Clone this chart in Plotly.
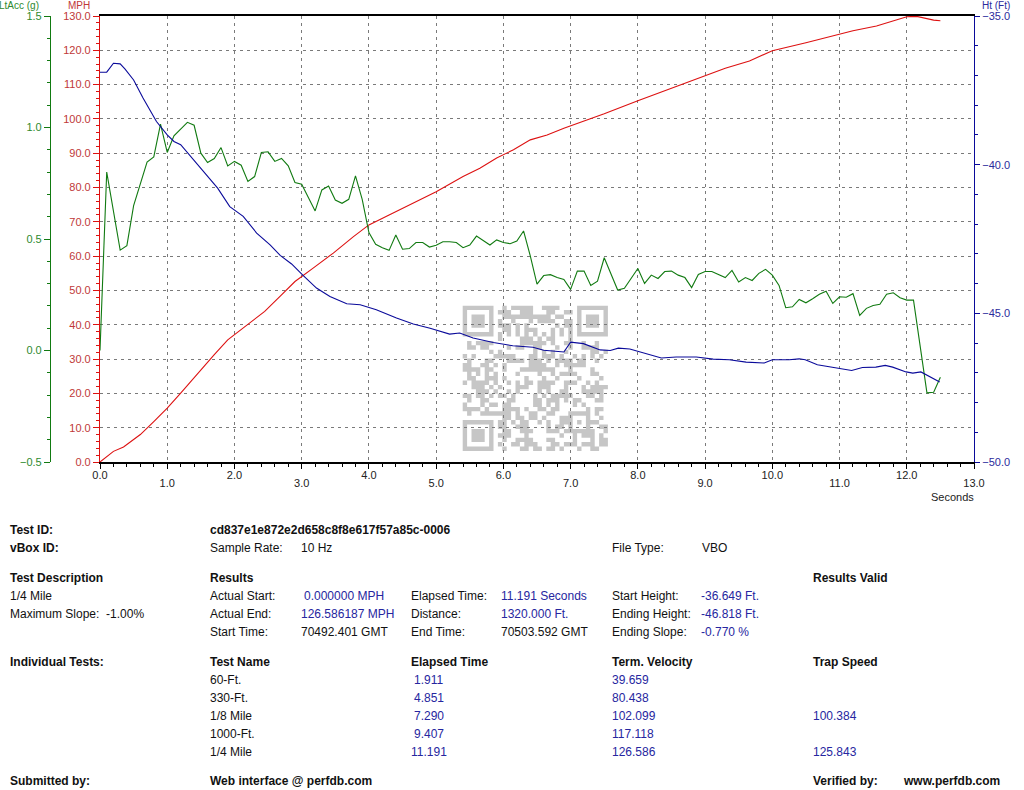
import hashlib
import plotly.graph_objects as go

# ---------------- data ----------------
acc_t = [0.0, 0.1, 0.3, 0.4, 0.5, 0.6, 0.7, 0.8, 0.9, 1.0, 1.1, 1.3, 1.4, 1.5, 1.6, 1.7, 1.8, 1.9,
         2.0, 2.1, 2.2, 2.3, 2.4, 2.5, 2.6, 2.7, 2.8, 2.9, 3.0, 3.2, 3.3, 3.4, 3.5, 3.6, 3.7, 3.8,
         3.9, 4.0, 4.1, 4.2, 4.3, 4.4, 4.5, 4.6, 4.7, 4.8, 4.9, 5.0, 5.1, 5.2, 5.3, 5.4, 5.5, 5.6,
         5.7, 5.8, 5.9, 6.0, 6.1, 6.2, 6.3, 6.4, 6.5, 6.6, 6.7, 6.8, 6.9, 7.0, 7.1, 7.2, 7.3, 7.4,
         7.5, 7.6, 7.7, 7.8, 7.9, 8.0, 8.1, 8.2, 8.3, 8.4, 8.5, 8.6, 8.7, 8.8, 8.9, 9.0, 9.1, 9.2,
         9.3, 9.4, 9.5, 9.6, 9.7, 9.8, 9.9, 10.0, 10.1, 10.2, 10.3, 10.4, 10.5, 10.6, 10.7, 10.8,
         10.9, 11.0, 11.1, 11.2, 11.3, 11.4, 11.5, 11.6, 11.7, 11.8, 11.9, 12.0, 12.1, 12.3, 12.4, 12.5]
acc_g = [0.0, 0.80, 0.45, 0.47, 0.65, 0.75, 0.845, 0.868, 1.015, 0.888, 0.963, 1.023, 1.01, 0.885,
         0.843, 0.861, 0.910, 0.828, 0.848, 0.831, 0.758, 0.780, 0.888, 0.891, 0.848, 0.861, 0.828,
         0.753, 0.746, 0.626, 0.72, 0.738, 0.675, 0.660, 0.678, 0.783, 0.678, 0.529, 0.476, 0.461,
         0.449, 0.518, 0.454, 0.457, 0.484, 0.484, 0.464, 0.472, 0.488, 0.488, 0.484, 0.461, 0.473,
         0.513, 0.494, 0.473, 0.496, 0.484, 0.479, 0.491, 0.536, 0.424, 0.298, 0.336, 0.340, 0.327,
         0.319, 0.274, 0.356, 0.356, 0.292, 0.311, 0.416, 0.341, 0.271, 0.279, 0.323, 0.368, 0.301,
         0.338, 0.323, 0.354, 0.356, 0.338, 0.327, 0.282, 0.341, 0.354, 0.354, 0.341, 0.327, 0.359,
         0.307, 0.327, 0.314, 0.346, 0.364, 0.338, 0.292, 0.192, 0.196, 0.229, 0.214, 0.232, 0.252,
         0.266, 0.211, 0.241, 0.239, 0.255, 0.157, 0.189, 0.202, 0.207, 0.252, 0.259, 0.237, 0.226,
         0.226, -0.190, -0.187, -0.12]

mph_t = [0.0, 0.2, 0.35, 0.6, 0.8, 1.0, 1.2, 1.5, 1.7, 1.9, 2.2, 2.45, 2.7, 2.9, 3.17, 3.47, 3.77,
         4.0, 4.3, 4.66, 5.0, 5.4, 5.65, 5.9, 6.15, 6.4, 6.65, 6.9, 7.13, 7.5, 8.0, 8.5, 9.0, 9.3,
         9.66, 10.0, 10.5, 11.0, 11.2, 11.55, 12.0, 12.15, 12.4, 12.5]
mph_v = [0.0, 3.1, 4.4, 8.0, 11.8, 15.7, 20.1, 26.9, 31.3, 35.6, 40.0, 43.9, 48.7, 52.6, 56.5, 60.9,
         65.7, 69.1, 72.0, 75.4, 78.8, 83.2, 85.6, 88.6, 91.0, 93.9, 95.3, 97.3, 98.9, 101.5, 105.3,
         109.0, 112.6, 114.8, 116.9, 119.9, 122.2, 124.7, 125.7, 127.1, 129.8, 129.9, 128.8, 128.6]

ht_t = [0.0, 0.1, 0.2, 0.3, 0.37, 0.5, 0.64, 0.84, 1.0, 1.1, 1.2, 1.35, 1.55, 1.75, 1.93, 2.13, 2.33,
        2.53, 2.68, 2.85, 3.02, 3.22, 3.42, 3.67, 3.87, 4.11, 4.41, 4.66, 4.91, 5.2, 5.35, 5.55,
        5.85, 6.14, 6.44, 6.6, 6.9, 7.0, 7.19, 7.44, 7.59, 7.71, 7.88, 8.04, 8.18, 8.35, 8.57,
        8.87, 9.12, 9.36, 9.61, 9.88, 10.0, 10.25, 10.4, 10.49, 10.67, 10.95, 11.18, 11.34, 11.54,
        11.68, 11.79, 11.99, 12.09, 12.21, 12.34, 12.49]
ht_ft = [-36.89, -36.89, -36.59, -36.61, -36.78, -37.15, -37.76, -38.55, -39.0, -39.22, -39.33,
         -39.73, -40.29, -40.79, -41.41, -41.74, -42.30, -42.70, -43.05, -43.34, -43.72, -44.15,
         -44.43, -44.68, -44.71, -44.88, -45.16, -45.36, -45.50, -45.70, -45.66, -45.83, -45.98,
         -46.09, -46.14, -46.24, -46.30, -45.97, -46.02, -46.23, -46.25, -46.17, -46.20, -46.30,
         -46.39, -46.50, -46.47, -46.47, -46.54, -46.56, -46.64, -46.67, -46.56, -46.56, -46.53,
         -46.56, -46.73, -46.84, -46.92, -46.82, -46.81, -46.75, -46.81, -46.97, -47.01, -46.97,
         -47.12, -47.31]

test_id = "cd837e1e872e2d658c8f8e617f57a85c-0006"
test_names = ["60-Ft.", "330-Ft.", "1/8 Mile", "1000-Ft.", "1/4 Mile"]
elapsed = ["1.911", "4.851", "7.290", "9.407", "11.191"]
term_vel = ["39.659", "80.438", "102.099", "117.118", "126.586"]
trap_speed = ["", "", "100.384", "", "125.843"]

# ---------------- layout geometry ----------------
W, H = 1024, 790
L, R, T, B = 10, 50, 16, 328
PW, PH = W - L - R, H - T - B


def px(x):
    return (x - L) / PW


def py(y):
    return (H - B - y) / PH


RED = "#dd1111"
RED_T = "#c03838"
GRN = "#117a11"
GRN_T = "#2e8a2e"
BLU = "#0a0a9a"
BLU_T = "#2b2b9c"
TXT_B = "#2626a0"
FONT = "Liberation Sans"
GRID = "#7a7a7a"

fig = go.Figure()
fig.add_trace(go.Scatter(x=mph_t, y=mph_v, mode="lines", line=dict(color=RED, width=1.1),
                         xaxis="x", yaxis="y", showlegend=False))
fig.add_trace(go.Scatter(x=acc_t, y=acc_g, mode="lines", line=dict(color=GRN, width=1.1),
                         xaxis="x", yaxis="y2", showlegend=False))
fig.add_trace(go.Scatter(x=ht_t, y=ht_ft, mode="lines", line=dict(color=BLU, width=1.1),
                         xaxis="x", yaxis="y3", showlegend=False))
# invisible trace to activate the odd-label x axis
fig.add_trace(go.Scatter(x=[0, 13], y=[0, 0], mode="lines", line=dict(width=0),
                         xaxis="x2", yaxis="y", showlegend=False, hoverinfo="skip"))

tickfont = dict(family=FONT, size=11)

fig.update_layout(
    width=W, height=H, margin=dict(l=L, r=R, t=T, b=B, autoexpand=False),
    paper_bgcolor="white", plot_bgcolor="white",
    font=dict(family=FONT, size=12, color="#111"),
    xaxis=dict(domain=[px(100), 1], range=[0, 13], anchor="y", tickmode="linear", tick0=0, dtick=1,
               tickformat=".1f", ticklabelstep=2, ticks="outside", ticklen=5, tickcolor="black",
               showline=True, linecolor="black", linewidth=1.5, mirror=True, ticklabelstandoff=-3,
               showgrid=True, gridcolor=GRID, griddash="3px,4px", gridwidth=1, zeroline=False,
               automargin=False, tickfont=dict(tickfont, color="#222"),
               minor=dict(dtick=0.2, ticks="outside", ticklen=3, tickcolor="black", showgrid=False)),
    xaxis2=dict(domain=[px(100), 1], range=[0, 13], overlaying="x", anchor="y", side="bottom",
                tickmode="linear", tick0=1, dtick=2, tickformat=".1f", ticks="", showline=False,
                showgrid=False, zeroline=False, ticklabelstandoff=13, automargin=False,
                tickfont=dict(tickfont, color="#222")),
    yaxis=dict(domain=[0, 1], range=[0, 130], anchor="x", side="left", tickmode="linear", tick0=0,
               dtick=10, tickformat=".1f", ticks="outside", ticklen=6, tickcolor=RED,
               showline=True, linecolor=RED, linewidth=1.2, showgrid=True, gridcolor=GRID,
               griddash="3px,4px", zeroline=False, automargin=False,
               tickfont=dict(tickfont, color=RED_T),
               minor=dict(dtick=2, ticks="outside", ticklen=3, tickcolor=RED, showgrid=False)),
    yaxis2=dict(range=[-0.5, 1.5], overlaying="y", anchor="free", position=px(50), side="left",
                tickmode="linear", tick0=-0.5, dtick=0.5, tickformat=".1f", ticks="outside",
                ticklen=6, tickcolor=GRN, showline=True, linecolor=GRN, linewidth=1.2,
                showgrid=False, zeroline=False, automargin=False,
                tickfont=dict(tickfont, color=GRN_T),
                minor=dict(dtick=0.1, ticks="outside", ticklen=3, tickcolor=GRN, showgrid=False)),
    yaxis3=dict(range=[-50, -35], overlaying="y", anchor="x", side="right", tickmode="linear",
                tick0=-50, dtick=5, tickformat=".1f", ticks="outside", ticklen=5, tickcolor=BLU,
                showline=True, linecolor=BLU, linewidth=1.2, showgrid=False, zeroline=False,
                automargin=False, tickfont=dict(tickfont, color=BLU_T),
                minor=dict(dtick=1, ticks="outside", ticklen=3, tickcolor=BLU, showgrid=False)),
)

# ---------------- QR-like watermark (decoration) ----------------
N = 33
bits = "".join(bin(b)[2:].zfill(8)
               for i in range(10) for b in hashlib.md5(f"{test_id}{i}".encode()).digest())
mat = [[bits[r * N + c] == "1" for c in range(N)] for r in range(N)]


def finder(r0, c0):
    for r in range(-1, 8):
        for c in range(-1, 8):
            rr, cc = r0 + r, c0 + c
            if 0 <= rr < N and 0 <= cc < N:
                on = (0 <= r <= 6 and 0 <= c <= 6) and (r in (0, 6) or c in (0, 6) or (2 <= r <= 4 and 2 <= c <= 4))
                mat[rr][cc] = on


finder(0, 0)
finder(0, N - 7)
finder(N - 7, 0)
for i in range(8, N - 8):
    mat[6][i] = (i % 2 == 0)
    mat[i][6] = (i % 2 == 0)
for r in range(-2, 3):
    for c in range(-2, 3):
        mat[26 + r][26 + c] = (max(abs(r), abs(c)) != 1)

qx0, qy0, mod = 462.7, 305.7, 4.4
path = []
for r in range(N):
    c = 0
    while c < N:
        if mat[r][c]:
            c1 = c
            while c1 < N and mat[r][c1]:
                c1 += 1
            x0, x1 = px(qx0 + c * mod), px(qx0 + c1 * mod)
            y0, y1 = py(qy0 + r * mod), py(qy0 + (r + 1) * mod)
            path.append(f"M{x0:.5f},{y0:.5f}H{x1:.5f}V{y1:.5f}H{x0:.5f}Z")
            c = c1
        else:
            c += 1
fig.add_shape(type="path", path="".join(path), xref="paper", yref="paper",
              fillcolor="#c6c6c6", line=dict(width=0), layer="below")


# ---------------- text helpers ----------------
def ann(x, y, text, color="#111", size=12, bold=False, xanchor="left"):
    fig.add_annotation(x=px(x), y=py(y), xref="paper", yref="paper",
                       text=f"<b>{text}</b>" if bold else text,
                       showarrow=False, xanchor=xanchor, yanchor="middle", borderpad=0,
                       font=dict(family=FONT, size=size, color=color))


# axis titles
ann(-2, 5.5, "LtAcc (g)", GRN_T, 10)
ann(67, 5.5, "MPH", RED_T, 10)
ann(981, 5.5, "Ht (Ft)", BLU_T, 10)
ann(975, 497, "Seconds", "#222", 11, xanchor="right")

# ---------------- results table ----------------
ann(9, 530, "Test ID:", bold=True)
ann(209, 530, test_id, bold=True)
ann(9, 548, "vBox ID:", bold=True)
ann(209, 548, "Sample Rate:")
ann(300, 548, "10 Hz")
ann(611, 548, "File Type:")
ann(701, 548, "VBO")

ann(9, 578, "Test Description", bold=True)
ann(209, 578, "Results", bold=True)
ann(812, 578, "Results Valid", bold=True)

ann(9, 596, "1/4 Mile")
ann(9, 614, "Maximum Slope:&nbsp;&nbsp;-1.00%")

ann(209, 596, "Actual Start:")
ann(303, 596, "0.000000 MPH", TXT_B)
ann(209, 614, "Actual End:")
ann(300, 614, "126.586187 MPH", TXT_B)
ann(209, 632, "Start Time:")
ann(300, 632, "70492.401 GMT")

ann(410, 596, "Elapsed Time:")
ann(500, 596, "11.191 Seconds", TXT_B)
ann(410, 614, "Distance:")
ann(500, 614, "1320.000 Ft.", TXT_B)
ann(410, 632, "End Time:")
ann(500, 632, "70503.592 GMT")

ann(611, 596, "Start Height:")
ann(700, 596, "-36.649 Ft.", TXT_B)
ann(611, 614, "Ending Height:")
ann(700, 614, "-46.818 Ft.", TXT_B)
ann(611, 632, "Ending Slope:")
ann(700, 632, "-0.770 %", TXT_B)

ann(9, 662, "Individual Tests:", bold=True)
ann(209, 662, "Test Name", bold=True)
ann(410, 662, "Elapsed Time", bold=True)
ann(611, 662, "Term. Velocity", bold=True)
ann(812, 662, "Trap Speed", bold=True)

for i, (nm, et, tv, ts) in enumerate(zip(test_names, elapsed, term_vel, trap_speed)):
    yy = 680 + i * 18
    ann(209, yy, nm)
    ann(413 if len(et) < 6 else 410, yy, et, TXT_B)
    ann(611, yy, tv, TXT_B)
    if ts:
        ann(812, yy, ts, TXT_B)

ann(9, 781, "Submitted by:", bold=True)
ann(209, 781, "Web interface @ perfdb.com", bold=True)
ann(812, 781, "Verified by:", bold=True)
ann(902, 781, "www.perfdb.com", bold=True)

fig.write_html("out.html", config={"displayModeBar": False},
               post_script="document.body.style.margin='0';document.body.style.overflow='hidden';")
